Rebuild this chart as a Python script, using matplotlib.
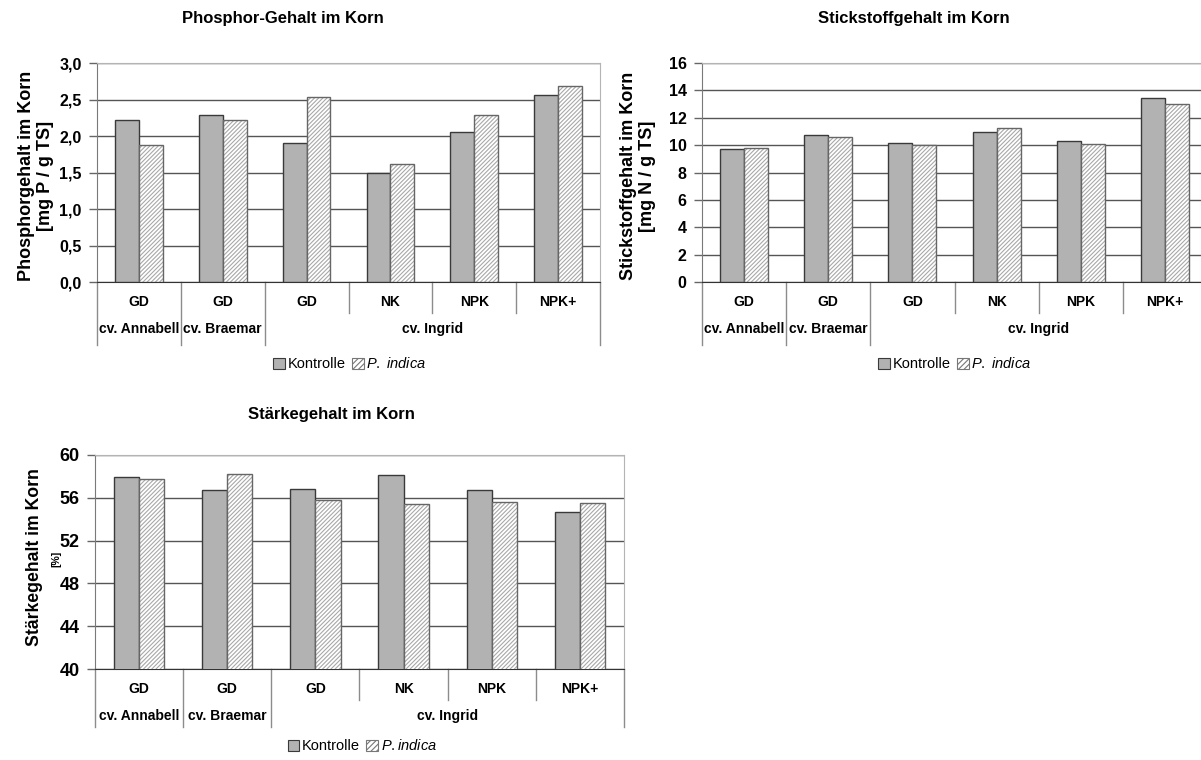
import matplotlib
matplotlib.use("Agg")
import matplotlib.pyplot as plt
import numpy as np
from matplotlib.patches import Patch

plt.rcParams['font.family'] = ['Liberation Sans', 'DejaVu Sans']
plt.rcParams['mathtext.fontset'] = 'custom'
plt.rcParams['mathtext.it'] = 'Liberation Sans:italic'
plt.rcParams['mathtext.rm'] = 'Liberation Sans'
plt.rcParams['hatch.linewidth'] = 0.8

treatments = ["GD", "GD", "GD", "NK", "NPK", "NPK+"]
cultivars = ["cv. Annabell", "cv. Braemar", "cv. Ingrid"]

phosphor_kontrolle = [2.22, 2.29, 1.90, 1.50, 2.05, 2.56]
phosphor_indica = [1.88, 2.22, 2.54, 1.61, 2.29, 2.68]
phosphor_ticks = [0.0, 0.5, 1.0, 1.5, 2.0, 2.5, 3.0]
phosphor_ticklabels = ["0,0", "0,5", "1,0", "1,5", "2,0", "2,5", "3,0"]

stickstoff_kontrolle = [9.72, 10.72, 10.13, 10.96, 10.30, 13.42]
stickstoff_indica = [9.79, 10.62, 9.99, 11.23, 10.06, 13.00]
stickstoff_ticks = [0, 2, 4, 6, 8, 10, 12, 14, 16]

staerke_kontrolle = [57.9, 56.7, 56.8, 58.1, 56.7, 54.65]
staerke_indica = [57.8, 58.2, 55.8, 55.4, 55.6, 55.5]
staerke_ticks = [40, 44, 48, 52, 56, 60]

W, H = 1201, 760
fig = plt.figure(figsize=(W / 100, H / 100), dpi=100)
fig.patch.set_facecolor('white')

GRID = '#555555'
BORDER = '#b4b4b4'
SEP = '#8c8c8c'
HATCH = '////////'


def px_axes(left, top, right, bottom):
    return fig.add_axes([left / W, (H - bottom) / H, (right - left) / W, (bottom - top) / H])


def panel(ax, kontrolle, indica, ticks, ticklabels, height_px, tick_size):
    x = np.arange(len(treatments))
    w = 0.285
    ax.bar(x - w / 2, kontrolle, w, color='#b2b2b2', edgecolor='#3a3a3a', linewidth=1.0, zorder=3)
    # hatch in light grey, outline drawn separately a bit darker
    ax.bar(x + w / 2, indica, w, color='white', edgecolor='#a8a8a8', hatch=HATCH, linewidth=0, zorder=3)
    ax.bar(x + w / 2, indica, w, fill=False, edgecolor='#666666', linewidth=1.0, zorder=4)
    ax.set_xlim(-0.5, len(treatments) - 0.5)
    ax.set_ylim(ticks[0], ticks[-1])
    ax.set_yticks(ticks)
    ax.set_yticklabels(ticklabels, fontsize=tick_size, fontweight='bold')
    ax.tick_params(axis='y', length=6, width=1, color='#666666', pad=5)
    ax.set_xticks([])
    ax.set_axisbelow(True)
    ax.yaxis.grid(True, color=GRID, linewidth=1.0)
    for s in ('top', 'right'):
        ax.spines[s].set_color(BORDER)
    ax.spines['left'].set_color('#7a7a7a')
    ax.spines['bottom'].set_color('#333333')

    # category table below the axis
    tr = ax.get_xaxis_transform()
    row1 = -20 / height_px
    row2 = -47 / height_px
    short = -31 / height_px
    long_ = -(63 if height_px > 216 else 58) / height_px
    for i, t in enumerate(treatments):
        ax.text(i, row1, t, transform=tr, ha='center', va='center', fontsize=10, fontweight='bold')
    for xc, name in zip([0, 1, 3.5], cultivars):
        ax.text(xc, row2, name, transform=tr, ha='center', va='center', fontsize=10, fontweight='bold')
    for xs in [-0.5, 0.5, 1.5, 5.5]:
        ax.plot([xs, xs], [0, long_], transform=tr, color=SEP, linewidth=1, clip_on=False)
    for xs in [2.5, 3.5, 4.5]:
        ax.plot([xs, xs], [0, short], transform=tr, color=SEP, linewidth=1, clip_on=False)


def legend(cx, cy, indica_label):
    handles = [Patch(facecolor='#b2b2b2', edgecolor='#3a3a3a', linewidth=0.8),
               Patch(facecolor='white', edgecolor='#777777', hatch='//////', linewidth=0.8)]
    fig.legend(handles, ['Kontrolle', indica_label], loc='center', ncol=2,
               bbox_to_anchor=(cx / W, 1 - cy / H), frameon=False, fontsize=10.5,
               handlelength=0.8, handleheight=0.8, handletextpad=0.2, columnspacing=0.4)


# Phosphor
ax1 = px_axes(97, 63, 600, 282)
panel(ax1, phosphor_kontrolle, phosphor_indica, phosphor_ticks, phosphor_ticklabels, 219, 11.5)
fig.text(283 / W, 1 - 18 / H, 'Phosphor-Gehalt im Korn', ha='center', va='center',
         fontsize=12, fontweight='bold')
fig.text(36 / W, 1 - 176 / H, 'Phosphorgehalt im Korn\n[mg P / g TS]', rotation=90,
         ha='center', va='center', fontsize=13, fontweight='bold', linespacing=1.2)
legend(350, 364, r'$\it{P.\ indica}$')

# Stickstoff
ax2 = px_axes(702, 63, 1207, 282)
panel(ax2, stickstoff_kontrolle, stickstoff_indica, stickstoff_ticks,
      [str(t) for t in stickstoff_ticks], 219, 11.5)
fig.text(914 / W, 1 - 18 / H, 'Stickstoffgehalt im Korn', ha='center', va='center',
         fontsize=12, fontweight='bold')
fig.text(638 / W, 1 - 176 / H, 'Stickstoffgehalt im Korn\n[mg N / g TS]', rotation=90,
         ha='center', va='center', fontsize=13, fontweight='bold', linespacing=1.2)
legend(955, 364, r'$\it{P.\ indica}$')

# Stärke
ax3 = px_axes(95, 455, 624, 669)
panel(ax3, staerke_kontrolle, staerke_indica, staerke_ticks,
      [str(t) for t in staerke_ticks], 214, 13)
fig.text(331 / W, 1 - 415 / H, 'Stärkegehalt im Korn', ha='center', va='center',
         fontsize=12, fontweight='bold')
fig.text(35 / W, 1 - 557 / H, 'Stärkegehalt im Korn', rotation=90,
         ha='center', va='center', fontsize=12.7, fontweight='bold')
fig.text(56 / W, 1 - 559 / H, '[%]', rotation=90,
         ha='center', va='center', fontsize=7.5, fontweight='bold')
legend(362, 746, r'$\it{P.indica}$')

fig.savefig('out.png', dpi=100)
